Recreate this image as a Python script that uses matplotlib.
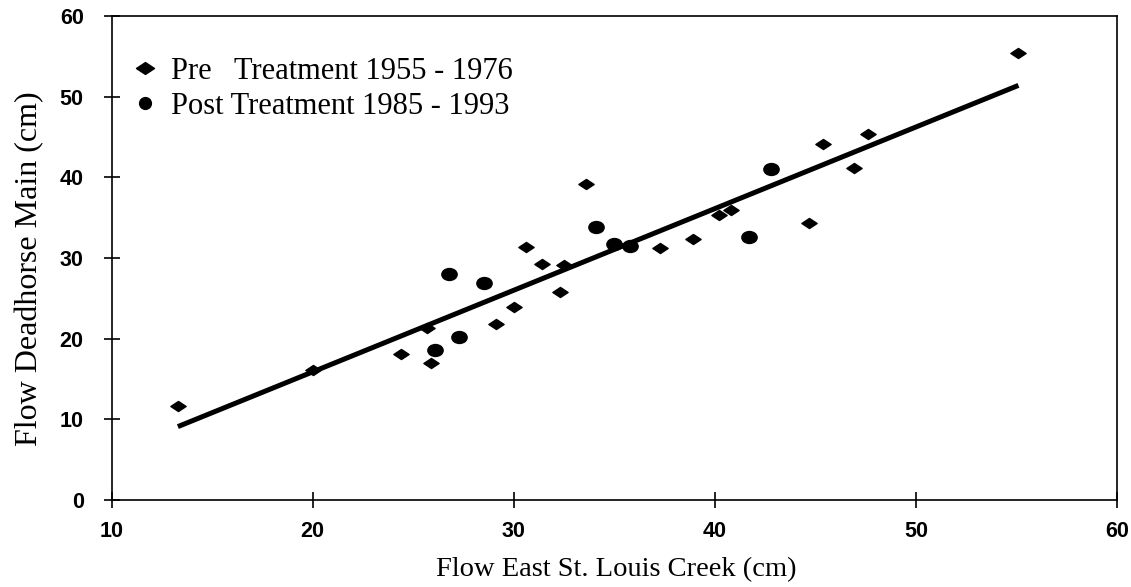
import numpy as np
import matplotlib.pyplot as plt
from matplotlib.path import Path
from matplotlib.transforms import Affine2D

# Data: flows (cm)
pre_x = [13.3, 20.0, 24.4, 25.7, 25.9, 29.1, 30.0, 30.6, 31.4, 32.3, 32.5,
         33.6, 37.3, 38.9, 40.2, 40.8, 44.7, 45.4, 46.9, 47.6, 55.1]
pre_y = [11.7, 16.1, 18.1, 21.3, 17.0, 21.8, 23.9, 31.4, 29.2, 25.8, 29.1,
         39.2, 31.3, 32.4, 35.3, 35.9, 34.3, 44.1, 41.2, 45.4, 55.4]
post_x = [26.1, 26.8, 27.3, 28.5, 34.1, 35.0, 35.8, 41.7, 42.8]
post_y = [18.6, 28.0, 20.2, 26.9, 33.8, 31.7, 31.5, 32.6, 41.0]

# regression line
fit_slope = 1.012
fit_intercept = -4.36

x_ticks = [10, 20, 30, 40, 50, 60]
y_ticks = [0, 10, 20, 30, 40, 50, 60]

serif = ['Liberation Serif', 'DejaVu Serif']

# squashed diamond and ellipse markers
diamond = Path([(-1, 0), (0, 0.66), (1, 0), (0, -0.66), (-1, 0)],
               [Path.MOVETO, Path.LINETO, Path.LINETO, Path.LINETO, Path.CLOSEPOLY])
ellipse = Path.unit_circle().transformed(Affine2D().scale(1, 0.78))

plt.rcParams['font.family'] = ['Liberation Sans', 'DejaVu Sans']

fig = plt.figure(figsize=(11.31, 5.87), dpi=100)
ax = fig.add_axes([0.0986, 0.1482, 0.889, 0.8245])

fx = np.array([min(pre_x + post_x), max(pre_x + post_x)])
ax.plot(fx, fit_slope * fx + fit_intercept, color='black', lw=3.6,
        solid_capstyle='butt', zorder=2)
ax.plot(pre_x, pre_y, ls='none', marker=diamond, ms=11, color='black',
        label='Pre   Treatment 1955 - 1976', zorder=3)
ax.plot(post_x, post_y, ls='none', marker=ellipse, ms=11, color='black',
        label='Post Treatment 1985 - 1993', zorder=3)

ax.set_xlim(10, 60)
ax.set_ylim(0, 60)
ax.set_xticks(x_ticks)
ax.set_yticks(y_ticks)
ax.tick_params(direction='inout', length=12, width=1.2, color='black',
               labelsize=15.5)
ax.tick_params(axis='y', pad=14)
ax.tick_params(axis='x', pad=9)
for lab in ax.get_xticklabels() + ax.get_yticklabels():
    lab.set_fontweight('bold')

for sp in ax.spines.values():
    sp.set_linewidth(1.2)

ax.set_xlabel('Flow East St. Louis Creek (cm)', family=serif, fontsize=20.5)
ax.set_ylabel('Flow Deadhorse Main (cm)', family=serif, fontsize=23)
ax.xaxis.set_label_coords(0.502, -0.118)
ax.yaxis.set_label_coords(-0.067, 0.477)

leg = ax.legend(loc='upper left', bbox_to_anchor=(0.0, 0.96), frameon=False,
                prop={'family': serif, 'size': 22}, handlelength=0.8,
                handletextpad=0.45, labelspacing=0.2, borderaxespad=0.3)
leg.legend_handles[0].set_markersize(13)
leg.legend_handles[1].set_marker('o')
leg.legend_handles[1].set_markersize(8.5)

fig.savefig('out.png', dpi=100)
